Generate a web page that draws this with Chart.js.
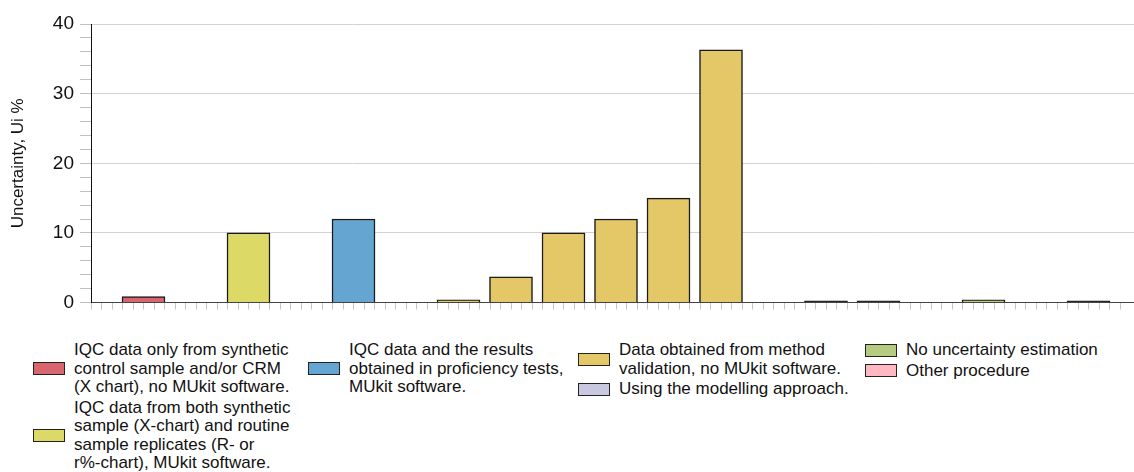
<!DOCTYPE html>
<html>
<head>
<meta charset="utf-8">
<script src="https://cdn.jsdelivr.net/npm/chart.js@4/dist/chart.umd.min.js"></script>
<style>
  html, body { margin: 0; padding: 0; background: #fff; overflow: hidden; }
  #wrap { position: relative; width: 1134px; height: 472px; }
  #c { position: absolute; left: 0; top: 0; }
  .col { position: absolute; top: 341px; font-family: "Liberation Sans", Arial, sans-serif; font-size: 17px; line-height: 18.5px; color: #111; }
  .item { display: flex; align-items: center; margin-bottom: 2px; }
  .box { width: 30px; height: 11px; border: 1.5px solid #222; flex: none; margin-right: 9px; }
</style>
</head>
<body>
<div id="wrap">
  <canvas id="c" width="1134" height="320"></canvas>
  <div id="legend"></div>
</div>
<script>
// ---- data ----
const seriesNames = [
  ["IQC data only from synthetic", "control sample and/or CRM", "(X chart), no MUkit software."],
  ["IQC data from both synthetic", "sample (X-chart) and routine", "sample replicates (R- or", "r%-chart), MUkit software."],
  ["IQC data and the results", "obtained in proficiency tests,", "MUkit software."],
  ["Data obtained from method", "validation, no MUkit software."],
  ["Using the modelling approach."],
  ["No uncertainty estimation"],
  ["Other procedure"]
];
const seriesColors = ["#D9666E", "#DCD966", "#64A6D1", "#E4C767", "#C8C8E0", "#B5CB7F", "#FFB7C2"];
// category slot (1-based position along the x axis) for each bar, per series
const slotsRed = [1];
const slotsYellow = [3];
const slotsBlue = [5];
const slotsGold = [7, 8, 9, 10, 11, 12];
const slotsModelling = [14, 15];
const slotsNone = [17];
const slotsOther = [19];
const valuesRed = [0.85];
const valuesYellow = [10];
const valuesBlue = [12];
const valuesGold = [0.4, 3.7, 10, 12, 15, 36.3];
const valuesModelling = [0.25, 0.25];
const valuesNone = [0.4];
const valuesOther = [0.25];
const yTicks = [0, 10, 20, 30, 40];
const yTitle = "Uncertainty, Ui %";

const allSlots = [slotsRed, slotsYellow, slotsBlue, slotsGold, slotsModelling, slotsNone, slotsOther];
const allValues = [valuesRed, valuesYellow, valuesBlue, valuesGold, valuesModelling, valuesNone, valuesOther];
const SLOT = 5; // axis units per category slot (5 minor ticks)
const EDGE = '#1a1a1a';

const datasets = allSlots.map((slots, i) => ({
  label: seriesNames[i].join(' '),
  data: slots.map((s, j) => ({ x: s * SLOT, y: allValues[i][j] })),
  // near-zero bars collapse into their outline
  backgroundColor: ctx => (ctx.raw && ctx.raw.y < 0.3) ? EDGE : seriesColors[i],
  borderColor: EDGE,
  borderWidth: 1.5,
  barThickness: 43,
  grouped: false
}));

const FONT = '"Liberation Sans", Arial, sans-serif';

new Chart(document.getElementById('c'), {
  type: 'bar',
  data: { datasets },
  options: {
    responsive: false,
    animation: false,
    layout: { padding: { top: 24, right: 0, left: 0, bottom: 0 } },
    plugins: { legend: { display: false }, tooltip: { enabled: false } },
    scales: {
      x: {
        type: 'linear',
        offset: false,
        min: 0,
        max: 1043 / 10.5,
        afterBuildTicks: s => { s.ticks = s.ticks.filter(t => Number.isInteger(t.value)); },
        afterFit: s => { s.height = 16; },
        ticks: { stepSize: 1, autoSkip: false, callback: () => '', maxRotation: 0 },
        grid: { offset: false, drawOnChartArea: false, drawTicks: true, tickLength: 7, tickColor: '#c4c4c4', color: '#c4c4c4' },
        border: { color: '#444', width: 1 }
      },
      y: {
        min: 0,
        max: 40,
        afterFit: s => { s.width = 91; },
        afterBuildTicks: s => { s.ticks = []; for (let v = 0; v <= 40; v += 2) s.ticks.push({ value: v }); },
        ticks: {
          autoSkip: false,
          padding: 6,
          color: '#111',
          font: { family: FONT, size: 19 },
          callback: v => yTicks.includes(v) ? String(v) : ''
        },
        grid: {
          tickLength: 11,
          tickColor: '#c0c0c0',
          color: ctx => (ctx.tick && ctx.tick.value !== 0 && yTicks.includes(ctx.tick.value)) ? '#d2d2d2' : 'rgba(0,0,0,0)'
        },
        border: { color: '#111', width: 1 },
        title: { display: true, text: yTitle, color: '#111', font: { family: FONT, size: 17 }, padding: { top: 8, bottom: 0 } }
      }
    }
  }
});

// ---- HTML legend (multi-line labels) ----
const legendCols = [[0, 1], [2], [3, 4], [5, 6]];
const colLeft = [33, 308, 578, 865];
const legend = document.getElementById('legend');
legendCols.forEach((idxs, ci) => {
  const col = document.createElement('div');
  col.className = 'col';
  col.style.left = colLeft[ci] + 'px';
  idxs.forEach(i => {
    const it = document.createElement('div');
    it.className = 'item';
    const b = document.createElement('div');
    b.className = 'box';
    b.style.background = seriesColors[i];
    const t = document.createElement('div');
    t.innerHTML = seriesNames[i].join('<br>');
    it.appendChild(b); it.appendChild(t);
    col.appendChild(it);
  });
  legend.appendChild(col);
});
</script>
</body>
</html>
